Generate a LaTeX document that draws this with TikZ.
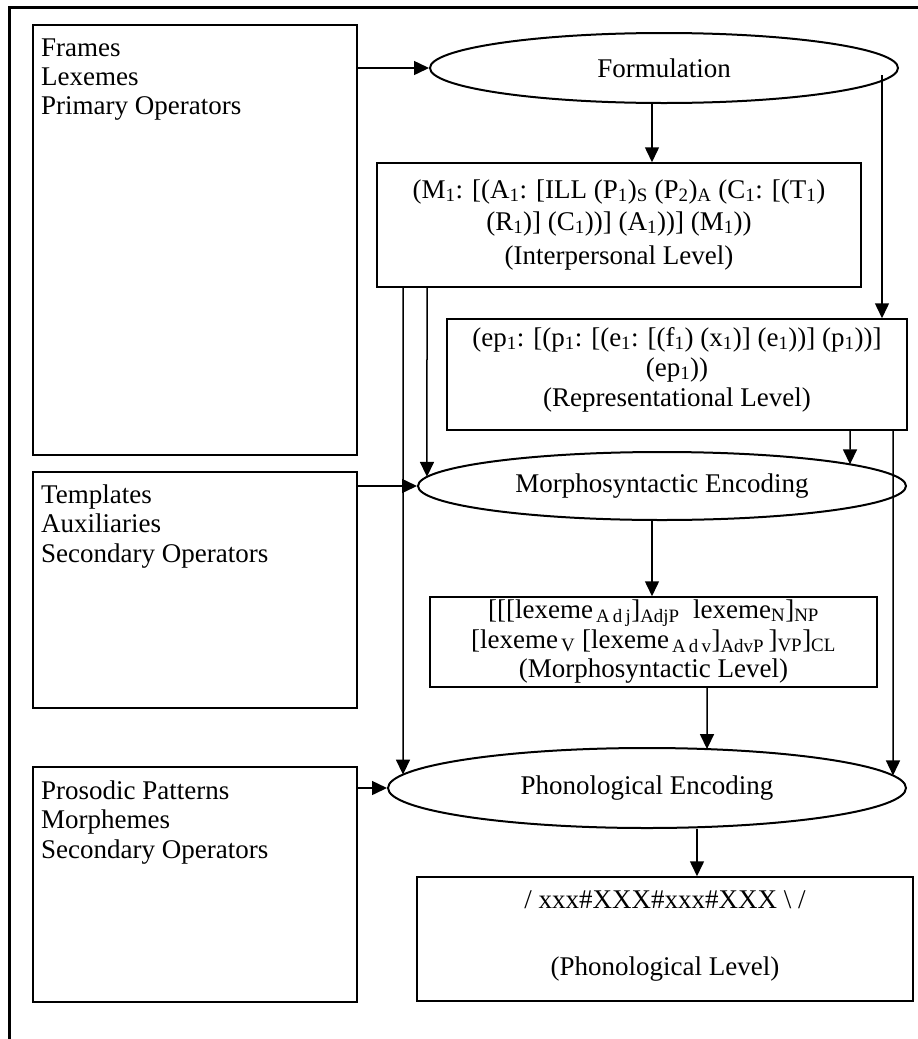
\documentclass[tikz,border=0pt]{standalone}
\usepackage{fontspec}
\setmainfont{Liberation Serif}
\usetikzlibrary{shapes.geometric,arrows.meta,intersections}
\newcommand\sbs[1]{\textsubscript{#1}}
\begin{document}
\begin{tikzpicture}[x=1pt,y=-1pt,
  every node/.style={font=\fontsize{27}{29}\selectfont, inner sep=0pt},
  box/.style={draw, line width=1.5pt, rectangle, inner sep=0pt},
  oval/.style={draw, line width=2pt, ellipse, inner sep=0pt},
  arr/.style={line width=1.5pt, -{Triangle[length=15pt,width=14pt]}},
  frame/.style={line width=3pt},
  ctxt/.style={anchor=base},
  ltxt/.style={anchor=base west}]
\useasboundingbox (0,0) rectangle (918,1039);
% outer frame
\coordinate (ob) at (9,1039);
\coordinate (otl) at (9,7);
\coordinate (otr) at (918,7);
\draw[frame] (ob) -- (otl) -- (otr);

% left boxes
\node[box, minimum width=324pt, minimum height=430pt] (fr) at (195,240) {};
\node[ltxt] (fr1) at (41,56) {Frames};
\node[ltxt] (fr2) at (41,85) {Lexemes};
\node[ltxt] (fr3) at (41,114) {Primary Operators};

\node[box, minimum width=324pt, minimum height=236pt] (te) at (195,590) {};
\node[ltxt] (te1) at (41,503) {Templates};
\node[ltxt] (te2) at (41,532) {Auxiliaries};
\node[ltxt] (te3) at (41,562) {Secondary Operators};

\node[box, minimum width=324pt, minimum height=235pt] (pr) at (195,884.5) {};
\node[ltxt] (pr1) at (41,799) {Prosodic Patterns};
\node[ltxt] (pr2) at (41,828) {Morphemes};
\node[ltxt] (pr3) at (41,858) {Secondary Operators};

% ellipses
\node[oval, minimum width=468pt, minimum height=70pt, name path=formP] (form) at (664,68) {Formulation};
\node[oval, minimum width=488pt, minimum height=68pt, name path=morphP] (morph) at (662,486) {Morphosyntactic Encoding};
\node[oval, minimum width=518pt, minimum height=80pt, name path=phonP] (phon) at (647,788) {Phonological Encoding};

% level boxes
\node[box, minimum width=484pt, minimum height=124pt] (ip) at (619,225) {};
\node[ctxt] (ip1) at (619,198) {(M\sbs{1}: [(A\sbs{1}: [ILL (P\sbs{1})\sbs{S} (P\sbs{2})\sbs{A} (C\sbs{1}: [(T\sbs{1})};
\node[ctxt] (ip2) at (619,230) {(R\sbs{1})] (C\sbs{1}))] (A\sbs{1}))] (M\sbs{1}))};
\node[ctxt] (ip3) at (619,264) {(Interpersonal Level)};

\node[box, minimum width=460pt, minimum height=111pt] (rep) at (677,374.5) {};
\node[ctxt] (rep1) at (677,346) {(ep\sbs{1}: [(p\sbs{1}: [(e\sbs{1}: [(f\sbs{1}) (x\sbs{1})] (e\sbs{1}))] (p\sbs{1}))]};
\node[ctxt] (rep2) at (677,376) {(ep\sbs{1}))};
\node[ctxt] (rep3) at (677,406) {(Representational Level)};

\node[box, minimum width=447pt, minimum height=90pt] (mbox) at (653.5,642) {};
\node[ctxt] (mb1) at (653.5,618) {[[[lexeme\sbs{\,A\,d\,j}]\sbs{AdjP}\ \ lexeme\sbs{N}]\sbs{NP}};
\node[ctxt] (mb2) at (653.5,648) {[lexeme\sbs{\,V} [lexeme\sbs{\,A\,d\,v}]\sbs{AdvP}\,]\sbs{VP}]\sbs{CL}};
\node[ctxt] (mb3) at (653.5,677) {(Morphosyntactic Level)};

\node[box, minimum width=496pt, minimum height=124pt] (pbox) at (665,939) {};
\node[ctxt] (pb1) at (665,908) {/ xxx\#XXX\#xxx\#XXX \textbackslash\ /};
\node[ctxt] (pb2) at (665,975) {(Phonological Level)};

% connectors
\draw[arr] (fr.east |- form.west) -- (form.west);
\draw[arr] (te.east |- morph.west) -- (morph.west);
\draw[arr] (pr.east |- phon.west) -- (phon.west);

\draw[arr] (form.south -| 652,0) -- (ip.north -| 652,0);
\coordinate (fs) at (882,75);
\draw[arr] (fs) -- (rep.north -| fs);

\path[name path=v1] (427,287) -- (427,486);
\draw[arr, name intersections={of=v1 and morphP}] (ip.south -| 427,0) -- (intersection-1);
\path[name path=v2] (403,287) -- (403,788);
\draw[arr, name intersections={of=v2 and phonP}] (ip.south -| 403,0) -- (intersection-1);
\path[name path=v3] (850,430) -- (850,486);
\draw[arr, name intersections={of=v3 and morphP}] (rep.south -| 850,0) -- (intersection-1);
\path[name path=v4] (893,430) -- (893,788);
\draw[arr, name intersections={of=v4 and phonP}] (rep.south -| 893,0) -- (intersection-1);

\draw[arr] (morph.south -| 652,0) -- (mbox.north -| 652,0);
\path[name path=v5] (707,687) -- (707,788);
\draw[arr, name intersections={of=v5 and phonP}] (mbox.south -| 707,0) -- (intersection-1);
\draw[arr] (phon.south -| 697,0) -- (pbox.north -| 697,0);
\end{tikzpicture}
\end{document}
